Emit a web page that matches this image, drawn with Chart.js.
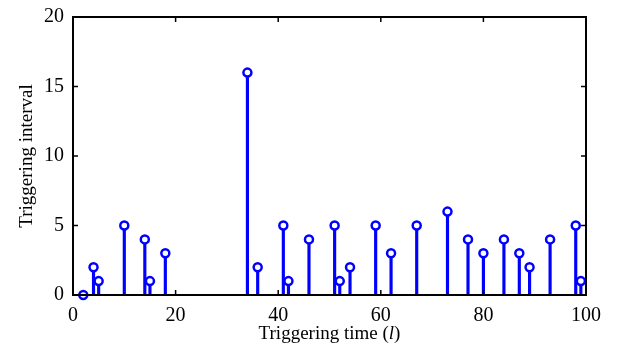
<!DOCTYPE html>
<html>
<head>
<meta charset="utf-8">
<script src="https://cdn.jsdelivr.net/npm/chart.js@4"></script>
<style>
  body { margin: 0; background: #fff; }
  #wrap { width: 617px; height: 347px; }
</style>
</head>
<body>
<div id="wrap"><canvas id="chartCanvas"></canvas></div>
<script>
// triggering times and intervals
const times = [2, 4, 5, 10, 14, 15, 18, 34, 36, 41, 42, 46, 51, 52, 54, 59, 62, 67, 73, 77, 80, 84, 87, 89, 93, 98, 99];
const intervals = [0, 2, 1, 5, 4, 1, 3, 16, 2, 5, 1, 4, 5, 1, 2, 5, 3, 5, 6, 4, 3, 4, 3, 2, 4, 5, 1];
const xTicks = [0, 20, 40, 60, 80, 100];
const yTicks = [0, 5, 10, 15, 20];

const serif = "'Liberation Serif', 'DejaVu Serif', serif";

let points = times.map((t, i) => ({ x: t, y: intervals[i] }));

// box + inward tick marks, and the x title with italic l
const frame = {
    id: 'frame',
    afterDraw(chart) {
        const c = chart.ctx;
        const a = chart.chartArea;
        const xs = chart.scales.x;
        const ys = chart.scales.y;
        c.save();
        c.strokeStyle = '#000';
        c.lineWidth = 2;
        c.strokeRect(a.left, a.top, a.right - a.left, a.bottom - a.top);
        c.lineWidth = 1.5;
        c.beginPath();
        xTicks.forEach(v => {
            let px = xs.getPixelForValue(v);
            c.moveTo(px, a.bottom); c.lineTo(px, a.bottom - 5);
            c.moveTo(px, a.top); c.lineTo(px, a.top + 5);
        });
        yTicks.forEach(v => {
            let py = ys.getPixelForValue(v);
            c.moveTo(a.left, py); c.lineTo(a.left + 5, py);
            c.moveTo(a.right, py); c.lineTo(a.right - 5, py);
        });
        c.stroke();

        // x axis title
        const parts = [
            ['Triggering time (', '19px ' + serif],
            ['l', 'italic 19px ' + serif],
            [')', '19px ' + serif]
        ];
        let total = 0;
        parts.forEach(p => { c.font = p[1]; total += c.measureText(p[0]).width; });
        let x = (a.left + a.right) / 2 - total / 2;
        c.fillStyle = '#000';
        c.textBaseline = 'alphabetic';
        parts.forEach(p => {
            c.font = p[1];
            c.fillText(p[0], x, 339);
            x += c.measureText(p[0]).width;
        });
        c.restore();
    }
};

let ctx = document.querySelector('#chartCanvas');

let graph = new Chart(ctx, {
    data: {
        datasets: [{
            type: 'scatter',
            data: points,
            pointStyle: 'circle',
            pointRadius: 4,
            borderColor: '#0000ff',
            backgroundColor: '#ffffff',
            borderWidth: 2.5,
            clip: false,
            order: 0
        }, {
            type: 'bar',
            data: points,
            backgroundColor: '#0000ff',
            barThickness: 2.5,
            order: 1
        }]
    },
    options: {
        responsive: true,
        maintainAspectRatio: false,
        animation: false,
        layout: { padding: { top: 17, right: 31, left: 0, bottom: 0 } },
        plugins: {
            legend: { display: false },
            tooltip: { enabled: false }
        },
        scales: {
            x: {
                type: 'linear',
                min: 0,
                max: 100,
                offset: false,
                afterBuildTicks: s => { s.ticks = xTicks.map(v => ({ value: v })); },
                afterFit: s => { s.height = 52; },
                grid: { display: false, offset: false },
                border: { display: false },
                ticks: { color: '#000', font: { family: serif, size: 20 }, padding: 1 }
            },
            y: {
                min: 0,
                max: 20,
                afterBuildTicks: s => { s.ticks = yTicks.map(v => ({ value: v })); },
                afterFit: s => { s.width = 73; },
                grid: { display: false },
                border: { display: false },
                ticks: { color: '#000', font: { family: serif, size: 20 }, padding: 1 },
                title: {
                    display: true,
                    text: 'Triggering interval',
                    color: '#000',
                    font: { family: serif, size: 19 },
                    padding: { top: 16, bottom: 0 }
                }
            }
        }
    },
    plugins: [frame]
});
</script>
</body>
</html>
